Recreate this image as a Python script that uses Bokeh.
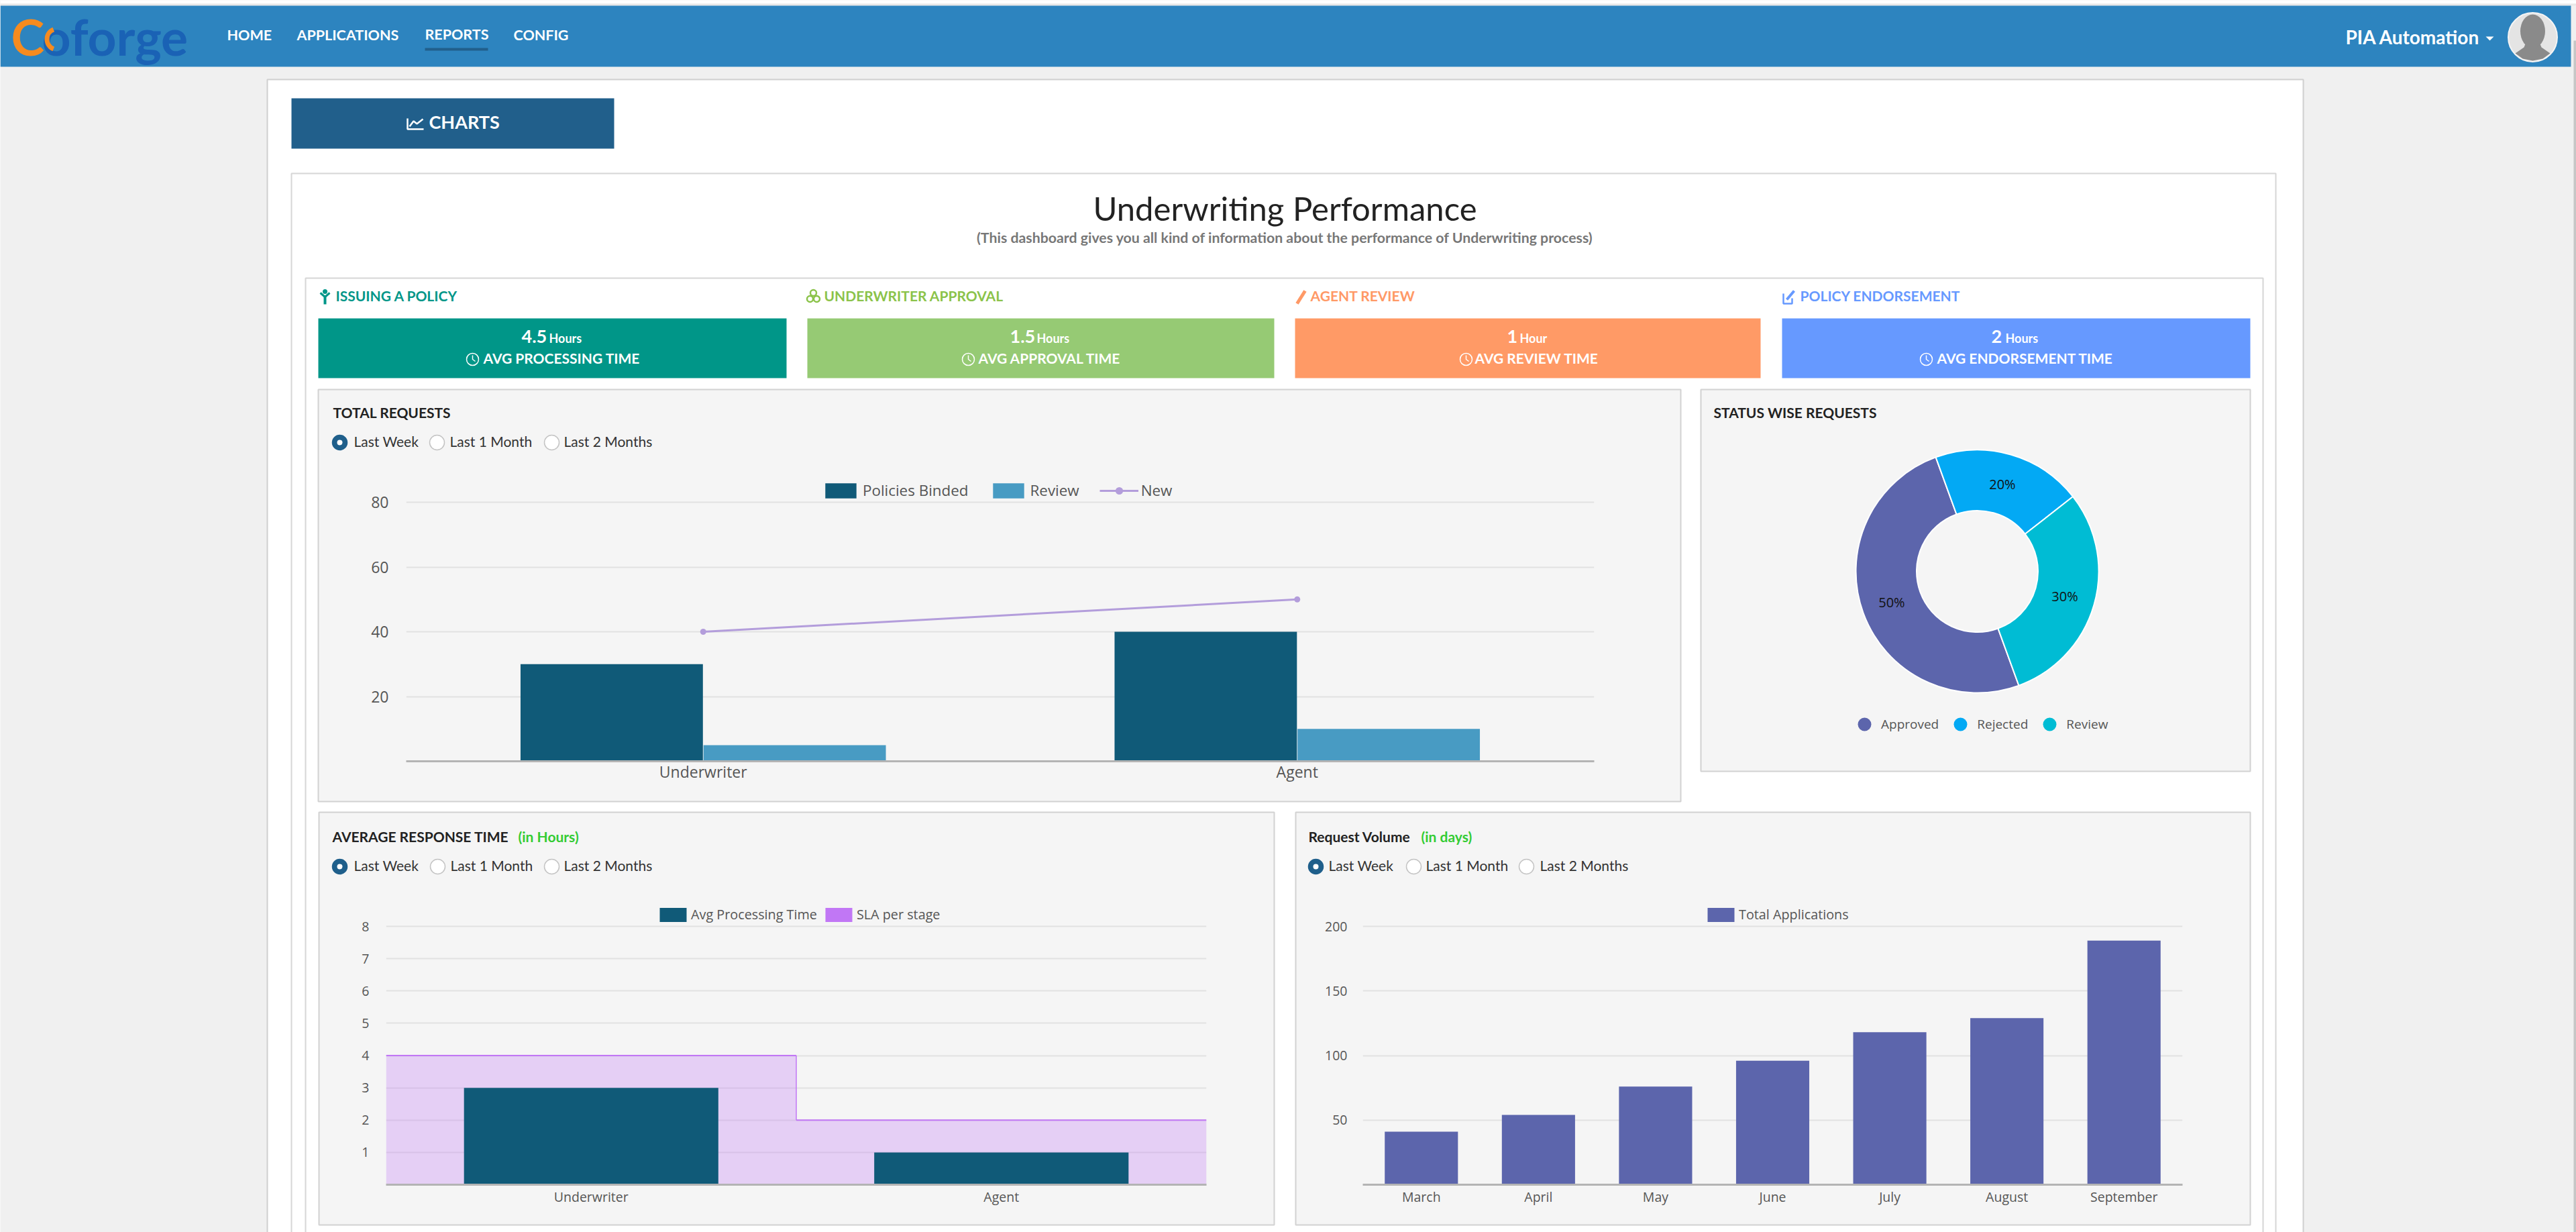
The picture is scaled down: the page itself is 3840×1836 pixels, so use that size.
from math import pi, cos, sin
from bokeh.core.properties import value
from bokeh.embed import file_html
from bokeh.resources import INLINE
from bokeh.layouts import column
from bokeh.models import (ColumnDataSource, FactorRange, FixedTicker, Legend, LegendItem, Range1d)
from bokeh.plotting import figure
from bokeh.transform import dodge

# ---------- data ----------
nav_labels = ["HOME", "APPLICATIONS", "REPORTS", "CONFIG"]
kpi_titles = ["ISSUING A POLICY", "UNDERWRITER APPROVAL", "AGENT REVIEW", "POLICY ENDORSEMENT"]
kpi_values = ["4.5", "1.5", "1", "2"]
kpi_units = ["Hours", "Hours", "Hour", "Hours"]
kpi_captions = ["AVG PROCESSING TIME", "AVG APPROVAL TIME", "AVG REVIEW TIME", "AVG ENDORSEMENT TIME"]
radio_labels = ["Last Week", "Last 1 Month", "Last 2 Months"]

req_categories = ["Underwriter", "Agent"]
req_binded = [30, 40]
req_review = [5, 10]
req_new = [40, 50]
req_ticks = [20, 40, 60, 80]

status_labels = ["Approved", "Rejected", "Review"]
status_shares = [50, 20, 30]

resp_categories = ["Underwriter", "Agent"]
resp_avg = [3, 1]
resp_sla = [4, 2]
resp_ticks = [1, 2, 3, 4, 5, 6, 7, 8]

vol_months = ["March", "April", "May", "June", "July", "August", "September"]
vol_total = [41, 54, 76, 96, 118, 129, 189]
vol_ticks = [50, 100, 150, 200]

# ---------- colours ----------
DARK = "#105a78"; LIGHT = "#489bc3"; LINE = "#b39ddb"; SLA = "#c177f5"; INDIGO = "#5c65ac"
CYAN = "#00bcd4"; SKY = "#03a9f4"
TICK = "#555555"; GRID = "#e2e2e2"; BASE = "#b4b4b4"; PANEL = "#f5f5f5"; EDGE = "#d2d2d2"
HEAD = "#2d84bf"

# ---------- page chrome ----------
W, H = 3840, 1836
bg = figure(width=W, height=H, x_range=Range1d(0, W), y_range=Range1d(H, 0), toolbar_location=None,
            output_backend="svg", min_border=0, outline_line_color=None, frame_align=False,
            background_fill_color="#f0f0f0", border_fill_color="#f0f0f0")
bg.axis.visible = False
bg.grid.visible = False


def box(l, t, r, b, fill, edge=None, ew=2):
    bg.quad(left=[l], right=[r], top=[t], bottom=[b], fill_color=fill,
            line_color=edge, line_width=ew)


def txt(x, y, s, size, color, font="Lato", style="normal", align="left"):
    bg.text(x=[x], y=[y - 2], text=[s], text_font=value(font), text_font_size=f"{size}px", text_color=color,
            text_font_style=style, text_align=align, text_baseline="middle")


def poly(xs, ys, color, width=2):
    bg.line(x=xs, y=ys, line_color=color, line_width=width)


def radios(xc, xt, y):
    for i, (cx, tx, lab) in enumerate(zip(xc, xt, radio_labels)):
        bg.circle(x=[cx], y=[y], radius=11, fill_color="#1f5f8b" if i == 0 else "#ffffff",
                  line_color="#1f5f8b" if i == 0 else "#c4c4c4", line_width=1.5)
        if i == 0:
            bg.circle(x=[cx], y=[y], radius=4, fill_color="#ffffff", line_color=None)
        txt(tx, y, lab, 21, "#333333")


# top strip / header
box(0, 0, W, 5, "#ffffff")
box(0, 5, W, 8, "#e8e8e8")
box(0, 8, 3832, 99, HEAD)
box(3836, 60, W, H, "#c6c6c6")

# logo
txt(16, 55, "C", 75, "#f68b1f", style="bold")
txt(62, 55, "oforge", 75, "#1a62b5", style="bold")
bg.annular_wedge(x=[85], y=[58], inner_radius=12, outer_radius=19, start_angle=pi * 0.62, end_angle=pi * 1.38,
                 start_angle_units="rad", fill_color="#f68b1f", line_color=None)

for x, lab, y in zip([338, 442, 633, 765], nav_labels, [53, 53, 52, 53]):
    txt(x, y, lab, 21.5, "#ffffff", style="bold")
box(633, 71, 727, 75, "#215f8b", None)

txt(3496, 56, "PIA Automation", 28, "#ffffff", style="bold")
bg.patch(x=[3705, 3717, 3711], y=[54, 54, 60], fill_color="#ffffff", line_color=None)
bg.circle(x=[3775], y=[55], radius=36.5, fill_color="#e4e4e4", line_color="#f4f4f4", line_width=2)
bg.patch(x=[3749, 3762, 3766, 3784, 3788, 3801, 3790, 3775, 3760],
         y=[79, 70, 60, 60, 70, 79, 87, 90, 87], fill_color="#8a8a8a", line_color=None)
bg.ellipse(x=[3775], y=[46], width=37, height=50, fill_color="#8a8a8a", line_color=None)

# outer white panels
box(398, 118, 3433, H + 10, "#ffffff", "#cfcfcf")
box(434, 146, 915, 221, "#215f8b", None)
poly([607, 607, 631], [176, 192, 192], "#ffffff", 2.5)
poly([610, 616, 621, 630], [188, 180, 184, 177], "#ffffff", 2.5)
txt(639, 183, "CHARTS", 27, "#ffffff", style="bold")

box(434, 258, 3392, H + 10, "#ffffff", "#d6d6d6")
txt(1915, 311, "Underwriting Performance", 49, "#222222", align="center")
txt(1915, 355, "(This dashboard gives you all kind of information about the performance of Underwriting process)",
    21.3, "#777777", style="bold", align="center")
box(455, 414, 3373, H + 10, "#ffffff", "#d6d6d6")

# KPI cards
card_l = [474, 1203, 1930, 2656]
card_r = [1172, 1899, 2624, 3354]
card_c = ["#009688", "#96ca74", "#ff9a66", "#6699ff"]
head_c = ["#009688", "#8bc34a", "#ff9966", "#6699ff"]
head_x = [500, 1228, 1953, 2683]
val_x = [777, 1505, 2246, 2968]
unit_x = [818, 1545, 2265, 2989]
cap_x = [720, 1458, 2198, 2887]
clock_x = [704, 1443, 2185, 2871]
for i in range(4):
    box(card_l[i], 474, card_r[i], 563, card_c[i], None)
    txt(head_x[i], 442, kpi_titles[i], 21, head_c[i], style="bold")
    txt(val_x[i], 503, kpi_values[i], 27, "#ffffff", style="bold")
    txt(unit_x[i], 505, kpi_units[i], 18, "#ffffff", style="bold")
    txt(cap_x[i], 535, kpi_captions[i], 21, "#ffffff", style="bold")
    bg.circle(x=[clock_x[i]], y=[535], radius=9, fill_color=None, line_color="#ffffff", line_width=1.5)
    poly([clock_x[i], clock_x[i], clock_x[i] + 4], [529, 535, 538], "#ffffff", 1.5)

# KPI heading icons
bg.circle(x=[484], y=[434], radius=3.5, fill_color=head_c[0], line_color=None)
poly([477, 484, 491], [436, 442, 436], head_c[0], 3)
poly([484, 484], [440, 453], head_c[0], 4)
for dx, dy in [(1212, 436), (1207, 445), (1217, 445)]:
    bg.circle(x=[dx], y=[dy], radius=4.5, fill_color=None, line_color=head_c[1], line_width=2.5)
poly([1933, 1945], [452, 433], head_c[2], 5)
poly([2658, 2658, 2671, 2671], [437, 452, 452, 444], head_c[3], 2.5)
poly([2663, 2674], [446, 433], head_c[3], 4)

# chart panels
box(474, 580, 2505, 1194, PANEL, EDGE)
box(2535, 580, 3354, 1149, PANEL, EDGE)
box(475, 1210, 1899, 1825, PANEL, EDGE)
box(1931, 1210, 3354, 1825, PANEL, EDGE)

txt(496, 616, "TOTAL REQUESTS", 21, "#222222", style="bold")
radios([506, 651, 822], [527, 670, 840], 659)
txt(2554, 616, "STATUS WISE REQUESTS", 21, "#222222", style="bold")
txt(495, 1248, "AVERAGE RESPONSE TIME", 21, "#222222", style="bold")
txt(772, 1248, "(in Hours)", 21, "#33cc33", style="bold")
radios([506, 652, 822], [527, 671, 840], 1291)
txt(1950, 1248, "Request Volume", 21, "#222222", style="bold")
txt(2118, 1248, "(in days)", 21, "#33cc33", style="bold")
radios([1961, 2107, 2275], [1980, 2125, 2295], 1291)


# ---------- charts ----------
def place(left, top):
    return {"position": "absolute", "left": f"{left}px", "top": f"{top}px"}


def chart(fl, ft, fr, fb, cats, y_end, ticks, size, standoff, x_standoff):
    # the frame reaches EXT px above the top tick so that the legend lies inside it
    ml, mr, mt, mb, ext = 110, 10, 10, 50, 40
    plot_h = fb - ft
    p = figure(width=fr - fl + ml + mr, height=plot_h + ext + mt + mb, x_range=FactorRange(*cats),
               y_range=Range1d(0, y_end * (plot_h + ext) / plot_h), toolbar_location=None, output_backend="svg",
               frame_align=False, min_border_left=ml, min_border_right=mr, min_border_top=mt, min_border_bottom=mb,
               background_fill_alpha=0, border_fill_alpha=0, outline_line_color=None,
               styles=place(fl - ml, ft - ext - mt))
    p.xgrid.visible = False
    p.ygrid.grid_line_color = GRID
    p.ygrid.grid_line_width = 2
    p.ygrid.ticker = FixedTicker(ticks=ticks)
    p.yaxis.ticker = FixedTicker(ticks=ticks)
    p.yaxis.axis_line_color = None
    p.xaxis.axis_line_color = BASE
    p.xaxis.axis_line_width = 3
    for ax in (p.xaxis[0], p.yaxis[0]):
        ax.major_tick_line_color = None
        ax.minor_tick_line_color = None
        ax.major_label_text_font = "Open Sans"
        ax.major_label_text_font_size = f"{size}px"
        ax.major_label_text_color = TICK
    p.yaxis.major_label_standoff = standoff
    p.xaxis.major_label_standoff = x_standoff
    return p


def legend(p, items, x, y, gw, gh, size, spacing, standoff):
    lg = Legend(items=items, location=(x, y), orientation="horizontal", padding=0, margin=0,
                border_line_color=None, background_fill_alpha=0, glyph_width=gw, glyph_height=gh,
                label_height=gh, label_standoff=standoff, spacing=spacing,
                label_text_font="Open Sans", label_text_font_size=f"{size}px", label_text_color=TICK)
    p.add_layout(lg, "center")


# total requests
FL, FT, FR, FB = 605, 748, 2376, 1134
pa = chart(FL, FT, FR, FB, req_categories, 80, req_ticks, 23, 20, -7)
sa = ColumnDataSource(dict(cat=req_categories, binded=req_binded, review=req_review, new=req_new))
r1 = pa.vbar(x=dodge("cat", -0.154, range=pa.x_range), top="binded", width=0.307, source=sa,
             fill_color=DARK, line_color=None)
r2 = pa.vbar(x=dodge("cat", 0.154, range=pa.x_range), top="review", width=0.307, source=sa,
             fill_color=LIGHT, line_color=None)
r3 = pa.line(x="cat", y="new", source=sa, line_color=LINE, line_width=3)
r4 = pa.scatter(x="cat", y="new", source=sa, size=9, fill_color=LINE, line_color=None)
legend(pa, [LegendItem(label="Policies Binded", renderers=[r1]), LegendItem(label="Review", renderers=[r2]),
            LegendItem(label="New", renderers=[r3, r4])], 1224 - FL, FB - FT + 2, 58, 28, 22.4, 30, 4)

# status donut
cx0, cy0, half, below = 2947, 851, 200, 60
pb = figure(width=2 * half + 400, height=2 * half + below, x_range=Range1d(-half / 181, half / 181),
            y_range=Range1d(-(half + below) / 181, half / 181), toolbar_location=None, output_backend="svg",
            frame_align=False, min_border_left=200, min_border_right=200, min_border_top=0, min_border_bottom=0,
            background_fill_alpha=0, border_fill_alpha=0, outline_line_color=None,
            styles=place(cx0 - half - 200, cy0 - half))
pb.axis.visible = False
pb.grid.visible = False
total = sum(status_shares)
angle = pi / 2 + 200 * pi / 180
starts, ends, lab_x, lab_y = [], [], [], []
for s in status_shares:
    a1 = angle - s / total * 2 * pi
    starts.append(a1); ends.append(angle)
    mid = (a1 + angle) / 2
    lab_x.append(0.75 * cos(mid)); lab_y.append(0.75 * sin(mid))
    angle = a1
colors = [INDIGO, SKY, CYAN]
pb.annular_wedge(x=0, y=0, inner_radius=0.5, outer_radius=1.0, start_angle=starts, end_angle=ends,
                 fill_color=colors, line_color="#ffffff", line_width=2)
pb.text(x=lab_x, y=lab_y, text=[f"{s}%" for s in status_shares], text_font=value("Open Sans"), text_font_size="20px",
        text_color="#111111", text_align="center", text_baseline="middle")
dummies = [pb.scatter(x=[-99], y=[-99], size=20, fill_color=c, line_color=None) for c in colors]
legend(pb, [LegendItem(label=l, renderers=[d]) for l, d in zip(status_labels, dummies)],
       2754 - (cx0 - half), (cy0 + half + below) - 1104, 50, 50, 19, 7, -7)

# average response
FL, FT, FR, FB = 575, 1380, 1798, 1765
pc = chart(FL, FT, FR, FB, resp_categories, 8, resp_ticks, 19.5, 19, -2)
sc = ColumnDataSource(dict(cat=resp_categories, avg=resp_avg, sla=resp_sla))
pc.vbar(x="cat", top="sla", width=1.0, source=sc, fill_color=SLA, fill_alpha=0.3, line_color=None)
pc.segment(x0=dodge("cat", -0.5, range=pc.x_range), x1=dodge("cat", 0.5, range=pc.x_range), y0="sla", y1="sla",
           source=sc, line_color=SLA, line_width=2)
step = ColumnDataSource(dict(cat=resp_categories[:1], y0=resp_sla[:1], y1=resp_sla[1:]))
pc.segment(x0=dodge("cat", 0.5, range=pc.x_range), x1=dodge("cat", 0.5, range=pc.x_range), y0="y0", y1="y1",
           source=step, line_color=SLA, line_width=1.5)
rc1 = pc.vbar(x="cat", top="avg", width=0.62, source=sc, fill_color=DARK, line_color=None)
rc2 = pc.vbar(x=resp_categories[:1], top=[0], width=0, fill_color=SLA, line_color=None)
legend(pc, [LegendItem(label="Avg Processing Time", renderers=[rc1]), LegendItem(label="SLA per stage", renderers=[rc2])],
       978 - FL, FB - FT + 4, 50, 26, 19.8, 7, 2)

# request volume
FL, FT, FR, FB = 2031, 1380, 3253, 1765
pd = chart(FL, FT, FR, FB, vol_months, 200, vol_ticks, 19.5, 17, -2)
sd = ColumnDataSource(dict(month=vol_months, total=vol_total))
rd = pd.vbar(x="month", top="total", width=0.625, source=sd, fill_color=INDIGO, line_color=None)
legend(pd, [LegendItem(label="Total Applications", renderers=[rd])], 2540 - FL, FB - FT + 4, 50, 26, 19.8, 7, 2)

root = column(bg, pa, pb, pc, pd, width=W, height=H, sizing_mode="fixed", spacing=0,
              styles={"position": "relative"})
open("out.html", "w").write(file_html(root, INLINE))
